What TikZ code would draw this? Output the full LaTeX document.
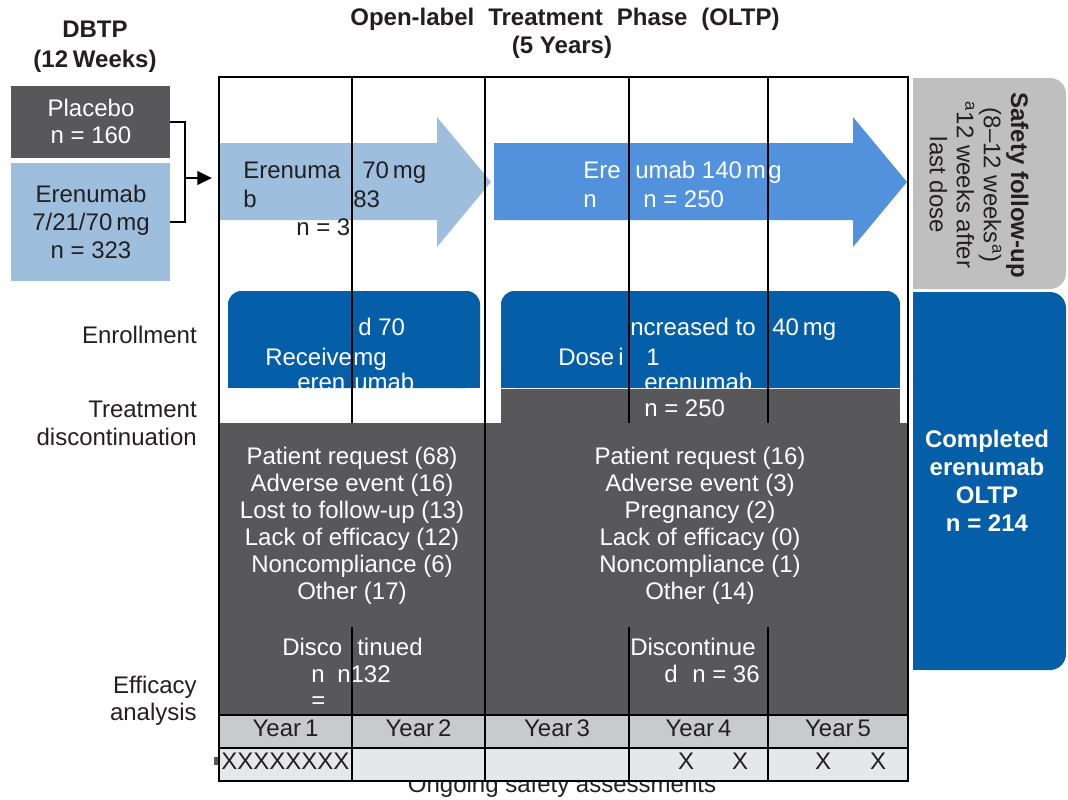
\documentclass[tikz,border=0pt]{standalone}
\usepackage{fontspec}
\setmainfont{Liberation Sans}
\usetikzlibrary{arrows.meta,positioning,fit,calc}
\definecolor{ink}{HTML}{231F20}
\definecolor{dkgray}{HTML}{58585A}
\definecolor{ltblue}{HTML}{9DBFDD}
\definecolor{midblue}{HTML}{5291DC}
\definecolor{dkblue}{HTML}{055FA8}
\definecolor{sfgray}{HTML}{BFBFBF}
\definecolor{yrgray}{HTML}{C8CACD}
\definecolor{rowgray}{HTML}{E6E7E8}
\newcommand{\fsz}{\fontsize{18}{20.3}\selectfont}

\begin{document}
\begin{tikzpicture}[x=0.75pt, y=-0.75pt, every node/.style={font=\fsz, inner sep=0pt, text=ink},
  lbl/.style={anchor=base west}, wlbl/.style={anchor=base west, text=white},
  side/.style={anchor=base east}, head/.style={anchor=base, font=\fsz\bfseries},
  grid/.style={line width=1.9pt}, bracket/.style={line width=2.2pt},
  arrow/.style={-{Triangle[length=11pt,width=10pt]}}]
\useasboundingbox (0,0) rectangle (1068,800);

% phase headings
\node[head] (dbtp) at (95,37) {DBTP};
\node[head] (dbtpwk) at (95,67) {(12\hspace{0.2em}Weeks)};
\node[head] (oltp) at (565,25) {Open-label\hspace{0.3em} Treatment\hspace{0.3em} Phase\hspace{0.3em} (OLTP)};
\node[head] (oltpyr) at (562,53) {(5 Years)};

% double-blind arms
\node[fit={(11,86)(170,158)}, fill=dkgray] (placebo) {};
\node[fit={(11,163)(170,281)}, fill=ltblue] (erenumabdb) {};
\node[anchor=base, text=white] (placeboa) at (91,116) {Placebo};
\node[anchor=base, text=white] (placebob) at (91,143) {n = 160};
\node[anchor=base] (erenumaba) at (91,202) {Erenumab};
\node[anchor=base] (erenumabb) at (91,230) {7/21/70\,mg};
\node[anchor=base] (erenumabc) at (91,258) {n = 323};
\coordinate (join) at (185,178);
\coordinate (olstart) at (212,178);
\draw[bracket] (placebo.east) -| (join) |- (erenumabdb.east);
\draw[bracket, arrow] (join) -- (olstart);

% treatment arrows
\fill[ltblue] (219,143) -- (437,143) -- (437,117) -- (491,182) -- (437,247) -- (437,220) -- (219,220) -- cycle;
\fill[midblue] (494,143) -- (853,143) -- (853,117) -- (907,182) -- (853,247) -- (853,220) -- (494,220) -- cycle;
\node[lbl] (lowa) at (243,178) {Erenuma};
\node[lbl] (lowb) at (243,207) {b};
\node[lbl] (lowc) at (362,178) {70\,mg};
\node[lbl] (lowd) at (353,207) {83};
\node[lbl] (lowe) at (296,235) {n = 3};
\node[wlbl] (higha) at (583,178) {Ere};
\node[wlbl] (highb) at (583,207) {n};
\node[wlbl] (highc) at (635,178) {umab 140\,m};
\node[wlbl] (highd) at (768,178) {g};
\node[wlbl] (highe) at (643,207) {n = 250};

% enrollment boxes
\fill[dkblue, rounded corners=10pt] (228,291) rectangle (480,388);
\fill[dkblue] (228,360) rectangle (480,388);
\fill[dkblue, rounded corners=10pt] (501,291) rectangle (900,388);
\fill[dkblue] (501,360) rectangle (900,388);
\begin{scope}
\clip (228,291) rectangle (480,388);
\node[wlbl] (recva) at (358,335) {d 70};
\node[wlbl] (recvb) at (265,365) {Receive};
\node[wlbl] (recvc) at (353,365) {mg};
\node[wlbl] (recvd) at (297,390) {eren};
\node[wlbl] (recve) at (354,390) {umab};
\end{scope}
\begin{scope}
\clip (501,291) rectangle (900,388);
\node[wlbl] (dosea) at (630,335) {ncreased to};
\node[wlbl] (doseb) at (772,335) {40\,mg};
\node[wlbl] (dosec) at (558,365) {Dose\,i};
\node[wlbl] (dosed) at (646,365) {1};
\node[wlbl] (dosee) at (644,390) {erenumab};
\end{scope}
\fill[dkgray] (501,389) rectangle (900,423);
\node[wlbl] (dosen) at (644,416) {n = 250};

% discontinuation panel
\fill[dkgray] (219,423) rectangle (908,715);
\foreach \txt [count=\i] in {Patient request (68), Adverse event (16), Lost to follow-up (13), Lack of efficacy (12), Noncompliance (6), Other (17)}
  \node[anchor=base, text=white] (lowr\i) at (352,437+27*\i) {\txt};
\foreach \txt [count=\i] in {Patient request (16), Adverse event (3), Pregnancy (2), Lack of efficacy (0), Noncompliance (1), Other (14)}
  \node[anchor=base, text=white] (highr\i) at (700,437+27*\i) {\txt};
\node[wlbl] (disca) at (282,655) {Disco};
\node[wlbl] (discb) at (357,655) {tinued};
\node[wlbl] (discc) at (311,682) {n};
\node[wlbl] (discd) at (337,682) {n132};
\node[wlbl] (disce) at (311,708) {=};
\node[wlbl] (discf) at (630,655) {Discontinue};
\node[wlbl] (discg) at (664,682) {d};
\node[wlbl] (disch) at (692,682) {n = 36};

% year rows
\node[anchor=base] (ongoing) at (562,792) {Ongoing safety assessments};
\fill[yrgray] (219,715) rectangle (908,748);
\fill[rowgray] (219,748) rectangle (908,781);
\fill[dkgray] (214,757) rectangle (218,765);
\foreach \xa/\xb [count=\i] in {219/352, 352/485, 485/629, 629/768, 768/908}
  \node[anchor=base] (year\i) at ({(\xa+\xb)/2},736) {Year\,\i};
\node[lbl] (marks) at (221,769) {XXXXXXXX};
\foreach \xm [count=\i] in {686, 740, 823, 878}
  \node[anchor=base] (mark\i) at (\xm,769) {X};

% grid
\draw[grid] (219,77) rectangle (908,781);
\draw[grid] (219,715) -- (908,715) (219,748) -- (908,748);
\draw[grid] (485,77) -- (485,781);
\foreach \xg in {352, 629, 768}
  \draw[grid] (\xg,77) -- (\xg,423) (\xg,627) -- (\xg,781);

% follow-up boxes
\fill[sfgray] (913,78) rectangle (950,289);
\node[fit={(913,78)(1066,289)}, fill=sfgray, rounded corners=12pt] (safety) {};
\node[rotate=-90, align=center] (safetytxt) at (979,185) {\textbf{Safety follow-up}\\(8–12 weeks\textsuperscript{a})\\\textsuperscript{a}12 weeks after\\last dose};
\fill[dkblue] (913,292) rectangle (950,670);
\node[fit={(913,292)(1066,670)}, fill=dkblue, rounded corners=12pt] (completed) {};
\foreach \txt/\yb in {Completed/447, erenumab/475, OLTP/503, n = 214/531}
  \node[anchor=base, text=white, font=\fsz\bfseries] at (987,\yb) {\txt};

% row labels
\node[side] (enrol) at (197,343) {Enrollment};
\node[side] (trta) at (197,417) {Treatment};
\node[side] (trtb) at (197,445) {discontinuation};
\node[side] (effa) at (197,693) {Efficacy};
\node[side] (effb) at (197,720) {analysis};
\end{tikzpicture}
\end{document}
